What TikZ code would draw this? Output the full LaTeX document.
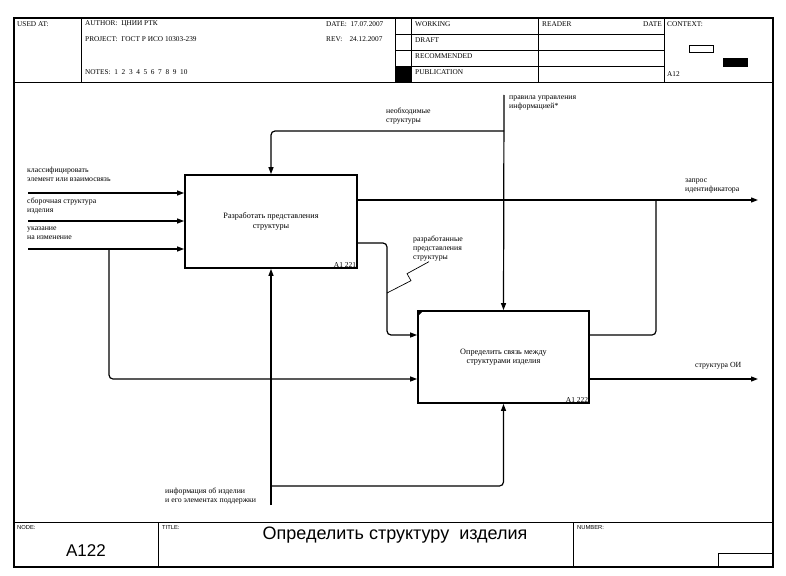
\documentclass[tikz,border=0pt]{standalone}
\usepackage{fontspec}
\setmainfont{Liberation Serif}
\newfontfamily\headsans{Liberation Sans}
\usetikzlibrary{arrows.meta,positioning}

\begin{document}
\begin{tikzpicture}[
    x=1pt, y=-1pt,
    font=\fontsize{8}{9}\selectfont,
    frame/.style={
        draw=black,
        line width=1.3pt
    },
    grid/.style={
        draw=black,
        line width=0.8pt
    },
    hdr/.style={
        anchor=west,
        inner sep=0pt,
        font=\fontsize{7.3}{8}\selectfont
    },
    foot/.style={
        anchor=north west,
        inner sep=0pt,
        font=\headsans\fontsize{5.8}{6}\selectfont
    },
    actbox/.style={
        draw=black,
        line width=1.8pt,
        fill=white,
        minimum width=172pt,
        minimum height=93pt,
        align=center,
        font=\fontsize{8.2}{9.5}\selectfont
    },
    boxid/.style={
        anchor=south east,
        inner sep=1.5pt,
        font=\fontsize{7.5}{8}\selectfont
    },
    lbl/.style={
        anchor=north west,
        inner sep=0pt,
        align=left,
        font=\fontsize{7.8}{9}\selectfont
    },
    flow/.style={
        -{Triangle[length=7pt,width=5pt]},
        line width=1.2pt,
        rounded corners=4pt
    },
    conn/.style={
        line width=1.2pt,
        rounded corners=4pt
    }
]
\useasboundingbox (0,0) rectangle (786,575);
% Frame
\draw[frame] (14,18) rectangle (773,567);
% Header
\draw[grid] (14,82) -- (773,82);
\draw[grid] (81,18) -- (81,82);
\draw[grid] (395,18) -- (395,82);
\draw[grid] (411,18) -- (411,82);
\draw[grid] (538,18) -- (538,82);
\draw[grid] (664,18) -- (664,82);
\foreach \row in {34,50,66} {
    \draw[grid] (395,\row) -- (664,\row);
}
\fill[black] (395,66) rectangle (411,82);
\node[hdr] (usedat) at (17,24) {USED AT:};
\node[hdr] (author) at (85,24) {AUTHOR:\ \ ЦНИИ РТК};
\node[hdr] (project) at (85,39) {PROJECT:\ \ ГОСТ Р ИСО 10303-239};
\node[hdr] (notes) at (85,72) {NOTES:\ \ 1\ \ 2\ \ 3\ \ 4\ \ 5\ \ 6\ \ 7\ \ 8\ \ 9\ \ 10};
\node[hdr] (date) at (326,24) {DATE:\ \ 17.07.2007};
\node[hdr] (rev) at (326,39) {REV:\ \ \ \ 24.12.2007};
\node[hdr] (working) at (415,24) {WORKING};
\node[hdr] (draft) at (415,40) {DRAFT};
\node[hdr] (recom) at (415,56) {RECOMMENDED};
\node[hdr] (publ) at (415,72) {PUBLICATION};
\node[hdr] (reader) at (542,24) {READER};
\node[hdr, anchor=east] (rdate) at (662,24) {DATE};
\node[hdr] (context) at (667,24) {CONTEXT:};
\node[hdr] (ctxnode) at (667,74) {A12};
% Context boxes
\draw[line width=0.8pt] (689,45) rectangle (713,52);
\fill[black] (723,58) rectangle (748,67);

% Footer
\draw[grid] (14,522) -- (773,522);
\draw[grid] (158,522) -- (158,567);
\draw[grid] (573,522) -- (573,567);
\draw[grid] (718,553) rectangle (773,567);
\node[foot] (nodelbl) at (17,525) {NODE:};
\node[foot] (titlelbl) at (162,525) {TITLE:};
\node[foot] (numlbl) at (577,525) {NUMBER:};
\node[font=\headsans\fontsize{17}{18}\selectfont] (nodeid) at (86,551) {A122};
\node[font=\headsans\fontsize{18}{19}\selectfont] (title) at (395,535) {Определить структуру\ \ изделия};

% Activities
\node[actbox] (b1) at (271,221.5) {Разработать представления\\структуры};
\node[boxid] (b1id) at (b1.south east) {A1 221};
\node[actbox, minimum width=171pt, minimum height=92pt] (b2) at (503.5,357) {Определить связь между\\структурами изделия};
\node[boxid] (b2id) at (b2.south east) {A1 222};
\fill[black] (b2.north west) -- ++(7,0) -- ++(-7,7) -- cycle;

% Inputs
\coordinate (in1) at (28,193);
\coordinate (in2) at (28,221);
\coordinate (in3) at (28,249);
\draw[flow] (in1) -- (b1.west |- in1);
\draw[flow] (in2) -- (b1.west |- in2);
\draw[flow] (in3) -- (b1.west |- in3);
\node[lbl] (l_in1) at (27,167) {классифицировать\\элемент или взаимосвязь};
\node[lbl] (l_in2) at (27,198) {сборочная структура\\изделия};
\node[lbl] (l_in3) at (27,227) {указание\\на изменение};
% Branch of the change note to A1 222
\coordinate (j1) at (109,249);
\coordinate (d3) at (109,379);
\draw[flow] (j1) -- (d3) -- (b2.west |- d3);

% Controls
\coordinate (c0) at (504,95);
\coordinate (c1) at (504,131);
\draw[flow] (c0) -- (b2.north);
\draw[flow] (c1) -| (b1.north);
\node[lbl] (l_c0) at (509,96) {правила управления\\информацией*};
\node[lbl] (l_c1) at (386,108) {необходимые\\структуры};

% Outputs
\coordinate (o1) at (758,200);
\coordinate (o2) at (758,379);
\draw[flow] (b1.east |- o1) -- (o1);
\draw[flow] (b2.east |- o2) -- (o2);
\node[lbl] (l_o1) at (685,179) {запрос\\идентификатора};
\node[lbl] (l_o2) at (695,362) {структура ОИ};
% A1 221 to A1 222
\coordinate (d1) at (387,243);
\coordinate (d2) at (387,335);
\draw[flow] (b1.east |- d1) -- (d1) -- (d2) -- (b2.west |- d2);
\node[lbl] (l_dev) at (413,236) {разработанные\\представления\\структуры};
\draw[line width=0.7pt] ([xshift=16pt]l_dev.south west) -- ++(-22,12) -- ++(4,7) -- (387,293);
% A1 222 back into the request
\coordinate (j3) at (656,200);
\draw[conn] (b2.east |- d2) -| (j3);

% Mechanisms
\coordinate (m0) at (271,505);
\coordinate (m1) at (271,486);
\draw[flow] (m0) -- (b1.south);
\draw[flow] (m1) -| (b2.south);
\node[lbl] (l_m0) at (165,488) {информация об изделии\\и его элементах поддержки};
\end{tikzpicture}
\end{document}
